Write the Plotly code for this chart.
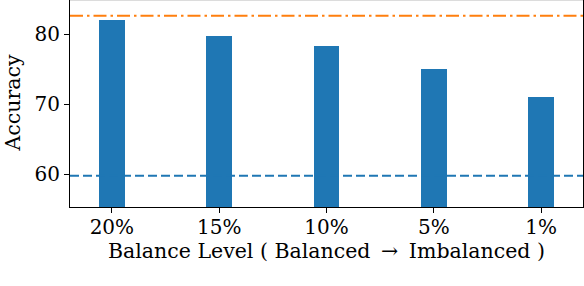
import plotly.graph_objects as go

categories = ["20%", "15%", "10%", "5%", "1%"]
accuracy = [82.05, 79.75, 78.35, 75.05, 71.05]
upper_reference = 82.65
lower_reference = 59.8
y_ticks = [60, 70, 80]

FONT = "DejaVu Serif"
FS = 20
FT = 20.5
BLUE = "#1f77b4"
ORANGE = "#ff7f0e"

fig = go.Figure()
fig.add_trace(go.Bar(x=categories, y=accuracy, marker=dict(color=BLUE, line=dict(width=0)),
                     width=0.24, showlegend=False))

fig.add_shape(type="line", xref="paper", x0=0, x1=1, yref="y", y0=lower_reference, y1=lower_reference,
              line=dict(color=BLUE, width=2, dash="9px,4px"), layer="above")
fig.add_shape(type="line", xref="paper", x0=0, x1=1, yref="y", y0=upper_reference, y1=upper_reference,
              line=dict(color=ORANGE, width=2, dash="13px,4px,2.5px,4px"), layer="above")
# top spine (partly cropped in reference)
fig.add_shape(type="line", xref="paper", x0=0, x1=1, yref="paper", y0=1, y1=1,
              line=dict(color="#d0d0d0", width=1.5), layer="above")

fig.add_annotation(text="Accuracy", xref="paper", yref="paper", x=0, y=0.5,
                   xanchor="center", yanchor="middle", xshift=-58, textangle=-90,
                   borderpad=0, showarrow=False, font=dict(family=FONT, size=FT, color="black"))

fig.update_layout(
    width=584, height=286,
    template="none",
    paper_bgcolor="white", plot_bgcolor="white",
    margin=dict(l=70, r=1, t=0, b=79, autoexpand=False),
    font=dict(family=FONT, size=FS, color="black"),
    bargap=0,
    showlegend=False,
)
fig.update_xaxes(
    type="category", range=[-0.39, 4.39],
    showline=True, linecolor="black", linewidth=1, mirror=False,
    ticks="outside", ticklen=5, tickwidth=1, tickcolor="black",
    showgrid=False, zeroline=False, automargin=False,
    tickfont=dict(family=FONT, size=FS), ticklabelstandoff=-3,
    title=dict(text="Balance Level ( Balanced \u2009\u2192\u2009 Imbalanced )",
               font=dict(family=FONT, size=FT), standoff=4),
)
fig.update_yaxes(
    range=[55.33, 84.9], tickvals=y_ticks,
    showline=True, linecolor="black", linewidth=1, mirror=True,
    ticks="outside", ticklen=5, tickwidth=1, tickcolor="black",
    showgrid=False, zeroline=False, automargin=False,
    tickfont=dict(family=FONT, size=FS),
)

fig.write_html("out.html", config={"displayModeBar": False},
               post_script="document.body.style.margin='0';document.body.style.overflow='hidden';")
